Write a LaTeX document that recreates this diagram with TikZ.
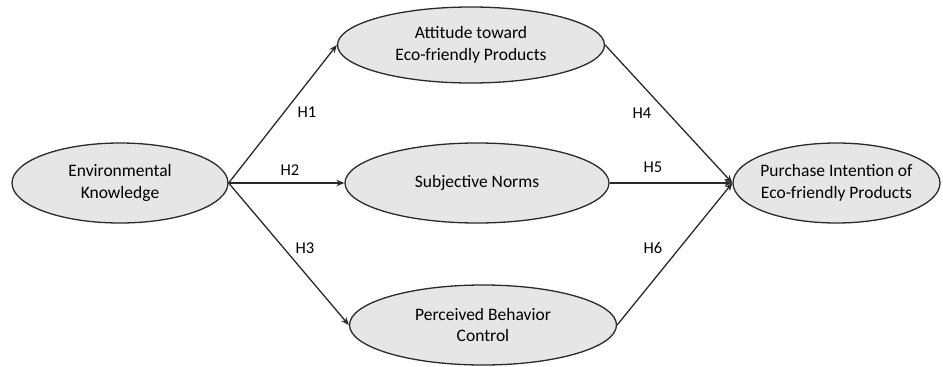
\documentclass[tikz,border=0pt]{standalone}
\usepackage{fontspec}
\setmainfont{Carlito}
\usetikzlibrary{shapes.geometric,arrows.meta}
\definecolor{ellfill}{HTML}{E6E6E6}
\definecolor{ellline}{HTML}{2A2A2A}
\begin{document}
\begin{tikzpicture}[x=1pt,y=-1pt,
  construct/.style={ellipse,draw=ellline,fill=ellfill,line width=1.3pt,inner sep=0pt,
    align=center,font=\fontsize{17.5}{21.5}\selectfont},
  path/.style={draw=ellline,line width=1.3pt,-{Stealth[length=8pt,width=6.5pt]}},
  hyp/.style={font=\fontsize{16.5}{19}\selectfont,inner sep=0pt}]
\useasboundingbox (0,0) rectangle (943,367);
\node[construct,minimum width=216pt,minimum height=80pt] (ek) at (120,183) {Environmental\\Knowledge};
\node[construct,minimum width=267pt,minimum height=76pt] (att) at (471,45) {Attitude toward\\Eco-friendly Products};
\node[construct,minimum width=264pt,minimum height=80pt] (sn) at (477,183) {Subjective Norms};
\node[construct,minimum width=267pt,minimum height=80pt] (pbc) at (483,325) {Perceived Behavior\\Control};
\node[construct,inner xsep=-8pt,minimum width=207pt,minimum height=80pt] (pi) at (836.5,183) {Purchase Intention of\\Eco-friendly Products};
\draw[path] (ek.east) -- (att.west);
\draw[path] (ek.east) -- (sn.west);
\draw[path] (ek.east) -- (pbc.west);
\draw[path] (att.east) -- (pi.west);
\draw[path] (sn.east) -- (pi.west);
\draw[path] (pbc.east) -- (pi.west);
\node[hyp] (h1) at (307,112) {H1};
\node[hyp] (h2) at (290,170) {H2};
\node[hyp] (h3) at (305,248) {H3};
\node[hyp] (h4) at (642,113) {H4};
\node[hyp] (h5) at (653,167) {H5};
\node[hyp] (h6) at (653,248) {H6};
\end{tikzpicture}
\end{document}
